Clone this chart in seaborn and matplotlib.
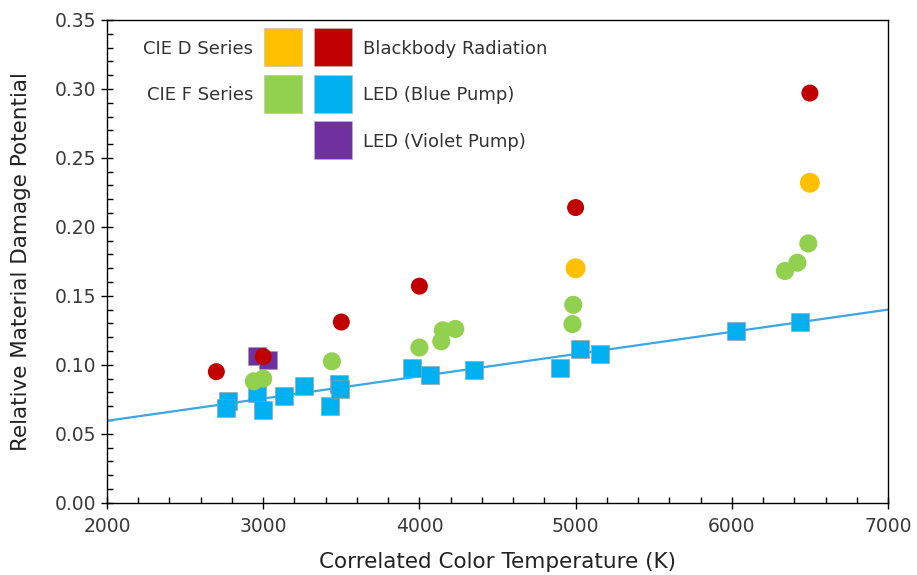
import matplotlib
matplotlib.use("Agg")
from matplotlib import pyplot as plt
from matplotlib.lines import Line2D
from matplotlib.ticker import MultipleLocator, FormatStrFormatter
import seaborn as sns

# CIE D series
d_cct = [5000, 6500]
d_val = [0.170, 0.232]

# CIE F series
f_cct = [2940, 3000, 3440, 4000, 4140, 4150, 4230, 4980, 4985, 6340, 6420, 6490]
f_val = [0.088, 0.090, 0.1025, 0.1125, 0.117, 0.125, 0.126, 0.1295, 0.1435, 0.168, 0.174, 0.188]

# blackbody radiation
bb_cct = [2700, 3000, 3500, 4000, 5000, 6500]
bb_val = [0.095, 0.106, 0.131, 0.157, 0.214, 0.297]

# LED blue pump
blue_cct = [2775, 2762, 2960, 3000, 3135, 3260, 3425, 3485, 3490,
            3950, 4065, 4350, 4900, 5025, 5155, 6030, 6435]
blue_val = [0.0737, 0.0689, 0.0795, 0.0675, 0.0774, 0.0847, 0.0700, 0.0863, 0.0826,
            0.0980, 0.0925, 0.0964, 0.0974, 0.1115, 0.1080, 0.1248, 0.1310]

# LED violet pump
violet_cct = [2960, 3030]
violet_val = [0.1065, 0.1035]

# trend line (at both ends)
trend_cct = [2000, 7000]
trend_val = [0.0594, 0.1400]

colors = {
    "CIE D Series": "#FFC000",
    "CIE F Series": "#92D050",
    "Blackbody Radiation": "#C00000",
    "LED (Blue Pump)": "#00B0F0",
    "LED (Violet Pump)": "#7030A0",
}

sns.set_style("white")
plt.rcParams["font.family"] = ["DejaVu Sans"]

fig = plt.figure(figsize=(9.17, 5.75), dpi=100)
ax = fig.add_axes([107 / 917, 1 - 502.7 / 575, (888 - 107) / 917, (502.7 - 20) / 575])

sns.lineplot(x=trend_cct, y=trend_val, ax=ax, color="#3AA8E0", linewidth=1.6, zorder=1)

sns.scatterplot(x=violet_cct, y=violet_val, ax=ax, marker="s", s=175,
                color=colors["LED (Violet Pump)"], edgecolor="#9a9a9a", linewidth=0.4, zorder=2)
sns.scatterplot(x=blue_cct, y=blue_val, ax=ax, marker="s", s=170,
                color=colors["LED (Blue Pump)"], edgecolor="#9a9a9a", linewidth=0.4, zorder=3)
sns.scatterplot(x=f_cct, y=f_val, ax=ax, marker="o", s=170,
                color=colors["CIE F Series"], edgecolor="none", zorder=4)
sns.scatterplot(x=d_cct, y=d_val, ax=ax, marker="o", s=205,
                color=colors["CIE D Series"], edgecolor="none", zorder=5)
sns.scatterplot(x=bb_cct, y=bb_val, ax=ax, marker="o", s=150,
                color=colors["Blackbody Radiation"], edgecolor="none", zorder=6)

ax.set_xlim(2000, 7000)
ax.set_ylim(0, 0.35)
ax.xaxis.set_major_locator(MultipleLocator(1000))
ax.xaxis.set_minor_locator(MultipleLocator(200))
ax.yaxis.set_major_locator(MultipleLocator(0.05))
ax.yaxis.set_minor_locator(MultipleLocator(0.01))
ax.yaxis.set_major_formatter(FormatStrFormatter("%.2f"))

ax.tick_params(which="major", direction="inout", length=8, width=1, color="black",
               labelsize=13.5, labelcolor="#3a3a3a", bottom=True, left=True)
ax.tick_params(which="minor", direction="in", length=4, width=1, color="black",
               bottom=True, left=True)
ax.tick_params(axis="x", which="major", pad=6)
for sp in ax.spines.values():
    sp.set_color("black")
    sp.set_linewidth(1)

ax.set_xlabel("Correlated Color Temperature (K)", fontsize=15.5, color="#222222", labelpad=12)
ax.set_ylabel("Relative Material Damage Potential", fontsize=15.5, color="#222222", labelpad=17)

# two-part legend: labels left of swatches, then swatches left of labels
fs = 13
sq = 27.5
leg_kw = dict(frameon=False, fontsize=fs, borderpad=0, borderaxespad=0,
              handlelength=2.1, handleheight=0.8, labelspacing=1.57, handletextpad=0.61,
              labelcolor="#333333", bbox_transform=fig.transFigure)


def handle(name):
    return Line2D([], [], marker="s", linestyle="none", markersize=sq,
                  markerfacecolor=colors[name], markeredgecolor="#bbbbbb", markeredgewidth=0.4)


left_names = ["CIE D Series", "CIE F Series"]
right_names = ["Blackbody Radiation", "LED (Blue Pump)", "LED (Violet Pump)"]

leg1 = ax.legend([handle(n) for n in left_names], left_names, loc="upper right",
                 bbox_to_anchor=(302 / 917, 1 - 40 / 575), markerfirst=False, **leg_kw)
ax.add_artist(leg1)
ax.legend([handle(n) for n in right_names], right_names, loc="upper left",
          bbox_to_anchor=(314 / 917, 1 - 40 / 575), markerfirst=True, **leg_kw)

plt.savefig("out.png", dpi=100)
